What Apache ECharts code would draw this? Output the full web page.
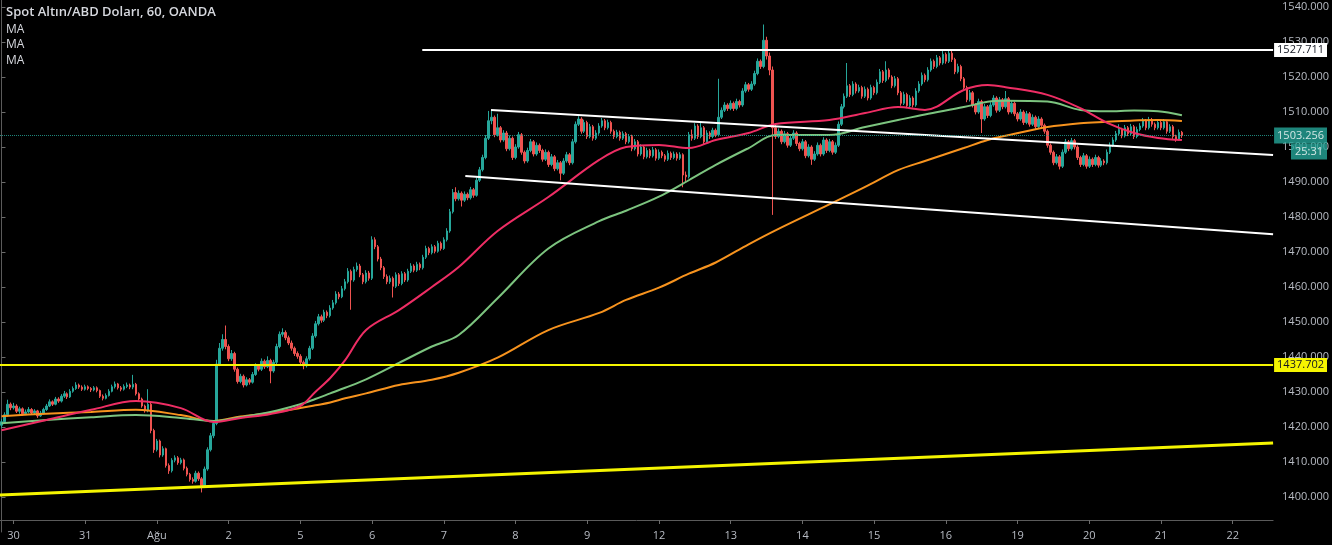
<!DOCTYPE html>
<html><head><meta charset="utf-8">
<script src="https://cdn.jsdelivr.net/npm/echarts/dist/echarts.min.js"></script>
<style>html,body{margin:0;padding:0;background:#000;}#c{width:1332px;height:545px;}</style>
</head><body><div id="c"></div>
<script>
// ---- tick labels (trading-day starts) ----
const tickLabels = ['30','31','Ağu','2','5','6','7','8','9','12','13','14','15','16','19','20','21','22'];
const firstDayBar = 4;      // bar index of Jul 30 00:00
const barsPerDay = 24;      // hourly bars
const totalSlots = 426;     // bar slots visible on the axis

// ---- hourly candles [open, close, low, high] ----
const candles = [
// Jul 29 late
[1420.5,1421.5,1419.8,1422.3],[1421.5,1423.5,1421.0,1424.2],[1423.5,1426.5,1423.0,1427.8],[1426.5,1425.5,1424.8,1427.0],
// Jul 30
[1425.5,1426.0,1425.0,1426.9],[1426.0,1424.5,1424.0,1426.5],[1424.5,1425.2,1423.8,1425.8],[1425.2,1423.8,1423.2,1425.6],
[1423.8,1424.3,1423.4,1425.0],[1424.3,1425.0,1423.9,1425.7],[1425.0,1424.0,1423.5,1425.4],[1424.0,1424.6,1423.6,1425.1],
[1424.6,1423.2,1422.6,1424.9],[1423.2,1424.0,1422.9,1424.6],[1424.0,1425.0,1423.6,1425.5],[1425.0,1426.0,1424.6,1426.6],
[1426.0,1427.2,1425.7,1427.9],[1427.2,1426.5,1426.0,1427.6],[1426.5,1428.0,1426.2,1428.6],[1428.0,1427.4,1426.9,1428.5],
[1427.4,1428.8,1427.0,1429.4],[1428.8,1429.5,1428.3,1430.3],[1429.5,1428.6,1428.0,1429.9],[1428.6,1430.2,1428.3,1430.8],
[1430.2,1431.0,1429.8,1431.6],[1431.0,1432.0,1430.6,1432.8],[1432.0,1431.4,1430.9,1432.4],[1431.4,1430.8,1430.3,1431.9],
// Jul 31
[1430.8,1431.5,1430.4,1432.1],[1431.5,1431.0,1430.5,1431.9],[1431.0,1430.6,1430.0,1431.4],[1430.6,1431.2,1430.2,1431.7],
[1431.2,1430.4,1429.9,1431.6],[1430.4,1428.8,1428.3,1430.7],[1428.8,1428.2,1427.6,1429.3],[1428.2,1429.0,1427.9,1429.6],
[1429.0,1430.2,1428.7,1430.8],[1430.2,1431.5,1429.9,1432.1],[1431.5,1432.3,1431.0,1433.0],[1432.3,1431.2,1430.7,1432.6],
[1431.2,1430.8,1430.2,1431.7],[1430.8,1431.6,1430.4,1432.2],[1431.6,1432.0,1431.1,1432.7],[1432.0,1431.4,1430.8,1432.4],
[1431.4,1432.2,1430.8,1434.9],[1432.2,1429.5,1429.0,1432.6],[1429.5,1428.0,1427.4,1429.9],[1428.0,1426.0,1425.5,1428.4],
[1426.0,1424.8,1424.1,1426.4],[1424.8,1426.5,1424.2,1430.8],[1426.5,1419.0,1418.2,1426.9],[1419.0,1413.5,1412.6,1419.5],
// Aug 1
[1413.5,1416.0,1413.0,1416.6],[1416.0,1412.0,1411.3,1416.4],[1412.0,1413.8,1411.5,1414.5],[1413.8,1409.0,1408.4,1414.1],
[1409.0,1407.5,1406.6,1409.6],[1407.5,1410.5,1407.0,1411.1],[1410.5,1411.2,1409.9,1411.9],[1411.2,1409.8,1409.2,1411.7],
[1409.8,1410.6,1409.3,1411.2],[1410.6,1408.2,1407.6,1411.0],[1408.2,1406.5,1405.9,1408.7],[1406.5,1405.0,1404.4,1406.9],
[1405.0,1404.5,1403.8,1405.6],[1404.5,1406.8,1404.1,1407.5],[1406.8,1405.2,1404.6,1407.3],[1405.2,1403.2,1401.3,1405.7],
[1403.2,1408.0,1402.6,1408.7],[1408.0,1413.5,1407.5,1414.2],[1413.5,1417.5,1413.0,1418.3],[1417.5,1421.0,1416.8,1421.8],
[1421.0,1438.0,1420.5,1439.2],[1438.0,1442.5,1437.4,1444.0],[1442.5,1445.0,1441.8,1446.5],[1445.0,1443.0,1442.2,1449.0],
// Aug 2
[1443.0,1439.5,1438.8,1443.6],[1439.5,1441.0,1438.9,1442.0],[1441.0,1436.5,1435.8,1441.5],[1436.5,1433.0,1432.4,1437.0],
[1433.0,1434.5,1432.5,1435.2],[1434.5,1432.0,1431.3,1435.0],[1432.0,1433.5,1431.6,1434.2],[1433.5,1432.8,1432.1,1434.0],
[1432.8,1435.0,1432.4,1435.7],[1435.0,1437.5,1434.6,1438.2],[1437.5,1436.5,1435.9,1438.0],[1436.5,1438.8,1436.0,1439.6],
[1438.8,1437.2,1436.6,1439.3],[1437.2,1439.0,1436.8,1440.2],[1439.0,1436.0,1432.5,1439.5],[1436.0,1438.5,1435.5,1439.2],
[1438.5,1443.0,1438.0,1443.8],[1443.0,1446.5,1442.5,1447.3],[1446.5,1447.0,1445.8,1448.2],[1447.0,1445.5,1444.8,1447.6],
[1445.5,1444.0,1443.4,1446.1],[1444.0,1442.5,1441.8,1444.7],[1442.5,1441.0,1440.3,1443.0],[1441.0,1440.2,1439.5,1441.6],
// Aug 5
[1440.2,1438.5,1437.8,1440.8],[1438.5,1437.5,1436.5,1439.0],[1437.5,1439.5,1437.0,1440.2],[1439.5,1442.5,1439.0,1443.2],
[1442.5,1446.0,1442.0,1446.8],[1446.0,1449.5,1445.5,1450.3],[1449.5,1451.5,1449.0,1452.3],[1451.5,1450.5,1449.8,1452.1],
[1450.5,1452.8,1450.0,1453.5],[1452.8,1451.8,1451.1,1453.3],[1451.8,1454.0,1451.3,1454.8],[1454.0,1455.5,1453.5,1456.3],
[1455.5,1458.0,1455.0,1458.8],[1458.0,1457.2,1456.5,1458.6],[1457.2,1459.5,1456.8,1460.3],[1459.5,1461.5,1459.0,1462.3],
[1461.5,1464.5,1461.0,1465.4],[1464.5,1462.0,1453.5,1465.0],[1462.0,1465.0,1461.5,1465.8],[1465.0,1466.0,1464.4,1467.0],
[1466.0,1463.5,1462.8,1466.6],[1463.5,1461.5,1460.8,1464.0],[1461.5,1464.0,1461.0,1464.8],[1464.0,1462.5,1461.8,1464.6],
// Aug 6
[1462.5,1473.5,1462.0,1474.5],[1473.5,1471.5,1470.8,1474.2],[1471.5,1468.0,1467.3,1472.0],[1468.0,1465.5,1464.8,1468.6],
[1465.5,1463.0,1462.3,1466.0],[1463.0,1461.5,1460.8,1463.6],[1461.5,1462.5,1460.9,1463.3],[1462.5,1460.2,1457.0,1463.0],
[1460.2,1463.5,1459.7,1464.2],[1463.5,1461.0,1460.3,1464.0],[1461.0,1463.8,1460.5,1464.5],[1463.8,1462.0,1461.4,1464.3],
[1462.0,1464.5,1461.5,1465.2],[1464.5,1466.0,1464.0,1466.8],[1466.0,1464.8,1464.2,1466.5],[1464.8,1466.5,1464.3,1467.2],
[1466.5,1465.5,1464.8,1467.0],[1465.5,1468.5,1465.0,1469.2],[1468.5,1471.0,1468.0,1471.8],[1471.0,1469.8,1469.1,1471.5],
[1469.8,1471.5,1469.3,1472.2],[1471.5,1470.2,1469.6,1472.0],[1470.2,1472.5,1469.8,1473.2],[1472.5,1471.0,1470.4,1473.0],
// Aug 7
[1471.0,1473.5,1470.6,1474.2],[1473.5,1476.0,1473.0,1476.8],[1476.0,1481.5,1475.5,1482.3],[1481.5,1487.0,1481.0,1488.0],
[1487.0,1485.2,1484.5,1488.5],[1485.2,1486.8,1484.7,1487.6],[1486.8,1484.8,1483.0,1487.3],[1484.8,1486.5,1484.3,1487.3],
[1486.5,1485.5,1484.8,1487.0],[1485.5,1487.8,1485.0,1488.6],[1487.8,1486.2,1485.5,1488.3],[1486.2,1490.5,1485.8,1491.3],
[1490.5,1493.5,1490.0,1494.3],[1493.5,1497.0,1493.0,1497.8],[1497.0,1502.5,1496.5,1503.4],[1502.5,1507.5,1502.0,1510.3],
[1507.5,1508.5,1506.5,1510.5],[1508.5,1503.5,1502.8,1509.0],[1503.5,1505.5,1503.0,1509.5],[1505.5,1502.0,1501.3,1506.0],
[1502.0,1504.0,1501.5,1504.8],[1504.0,1499.5,1498.8,1504.6],[1499.5,1502.5,1499.0,1503.3],[1502.5,1497.0,1496.3,1503.0],
// Aug 8
[1497.0,1500.0,1496.5,1500.8],[1500.0,1503.5,1499.5,1504.3],[1503.5,1498.5,1497.8,1504.0],[1498.5,1496.0,1495.3,1499.0],
[1496.0,1499.0,1495.5,1499.8],[1499.0,1501.5,1498.5,1502.3],[1501.5,1498.0,1497.3,1502.0],[1498.0,1500.5,1497.5,1501.3],
[1500.5,1499.0,1498.3,1501.0],[1499.0,1496.5,1495.8,1499.5],[1496.5,1498.5,1496.0,1499.3],[1498.5,1495.0,1494.3,1499.0],
[1495.0,1497.2,1494.5,1498.0],[1497.2,1493.8,1493.1,1497.7],[1493.8,1495.5,1493.3,1496.3],[1495.5,1492.5,1490.5,1496.0],
[1492.5,1496.0,1492.0,1496.8],[1496.0,1497.8,1495.5,1498.6],[1497.8,1495.5,1494.8,1498.3],[1495.5,1501.5,1495.0,1502.3],
[1501.5,1506.5,1501.0,1507.3],[1506.5,1508.0,1506.0,1508.8],[1508.0,1504.5,1503.8,1508.5],[1504.5,1507.0,1504.0,1507.8],
// Aug 9
[1507.0,1503.0,1502.3,1507.5],[1503.0,1505.8,1502.5,1506.6],[1505.8,1502.5,1501.8,1506.3],[1502.5,1504.0,1502.0,1504.8],
[1504.0,1506.0,1503.5,1506.8],[1506.0,1507.5,1505.5,1508.3],[1507.5,1505.5,1504.8,1508.0],[1505.5,1507.0,1505.0,1507.8],
[1507.0,1504.5,1503.8,1507.5],[1504.5,1503.0,1502.3,1505.0],[1503.0,1504.2,1502.5,1504.9],[1504.2,1502.5,1501.8,1504.7],
[1502.5,1503.8,1502.0,1504.5],[1503.8,1501.5,1500.8,1504.3],[1501.5,1503.0,1501.0,1503.7],[1503.0,1499.5,1498.8,1503.5],
[1499.5,1501.5,1499.0,1502.3],[1501.5,1498.0,1497.3,1502.0],[1498.0,1500.0,1497.5,1500.8],[1500.0,1497.2,1496.5,1500.5],
[1497.2,1499.0,1496.7,1499.8],[1499.0,1497.5,1496.8,1499.5],[1497.5,1499.2,1497.0,1500.0],[1499.2,1496.8,1496.1,1499.7],
// Aug 12
[1496.8,1498.5,1496.3,1499.3],[1498.5,1497.5,1496.8,1499.0],[1497.5,1496.5,1495.8,1498.0],[1496.5,1498.2,1496.0,1499.0],
[1498.2,1497.0,1496.3,1498.7],[1497.0,1498.0,1496.5,1498.7],[1498.0,1496.8,1496.1,1498.5],[1496.8,1497.8,1496.3,1498.5],
[1497.8,1492.0,1488.5,1498.2],[1492.0,1491.5,1489.8,1493.0],[1491.5,1503.5,1491.0,1504.3],[1503.5,1502.5,1501.8,1505.0],
[1502.5,1506.0,1502.0,1506.8],[1506.0,1503.0,1502.3,1506.5],[1503.0,1505.5,1502.5,1507.0],[1505.5,1501.5,1500.8,1506.0],
[1501.5,1504.0,1501.0,1504.8],[1504.0,1503.0,1502.3,1504.5],[1503.0,1504.8,1502.5,1505.5],[1504.8,1503.5,1502.8,1505.3],
[1503.5,1508.5,1503.0,1519.5],[1508.5,1510.5,1508.0,1511.3],[1510.5,1512.0,1510.0,1512.8],[1512.0,1511.0,1510.3,1512.5],
// Aug 13
[1511.0,1512.5,1510.5,1513.3],[1512.5,1511.0,1510.3,1513.0],[1511.0,1513.0,1510.5,1513.8],[1513.0,1512.0,1511.3,1513.5],
[1512.0,1516.0,1511.5,1516.8],[1516.0,1517.8,1515.5,1518.6],[1517.8,1516.5,1515.8,1518.3],[1516.5,1518.0,1516.0,1518.8],
[1518.0,1521.0,1517.5,1521.8],[1521.0,1524.5,1520.5,1525.3],[1524.5,1523.0,1522.3,1525.0],[1523.0,1530.5,1522.5,1535.0],
[1530.5,1526.0,1525.0,1531.5],[1526.0,1522.0,1520.5,1527.0],[1522.0,1505.5,1480.6,1523.0],[1505.5,1503.0,1502.3,1506.5],
[1503.0,1504.5,1502.5,1505.3],[1504.5,1501.5,1500.8,1505.0],[1501.5,1503.8,1501.0,1504.6],[1503.8,1500.5,1499.8,1504.3],
[1500.5,1502.5,1500.0,1503.3],[1502.5,1504.0,1502.0,1504.8],[1504.0,1501.0,1500.3,1504.5],[1501.0,1499.5,1498.8,1501.5],
// Aug 14
[1499.5,1501.5,1499.0,1502.3],[1501.5,1497.5,1496.8,1502.0],[1497.5,1500.0,1497.0,1500.8],[1500.0,1496.5,1494.9,1500.5],
[1496.5,1498.0,1496.0,1498.8],[1498.0,1500.5,1497.5,1501.3],[1500.5,1498.0,1497.3,1501.0],[1498.0,1502.0,1497.5,1502.8],
[1502.0,1499.0,1498.3,1502.5],[1499.0,1501.5,1498.5,1502.3],[1501.5,1498.5,1497.8,1502.0],[1498.5,1500.5,1498.0,1501.3],
[1500.5,1506.5,1500.0,1507.3],[1506.5,1511.5,1506.0,1512.3],[1511.5,1514.5,1511.0,1515.3],[1514.5,1517.5,1514.0,1524.0],
[1517.5,1515.0,1514.3,1518.0],[1515.0,1518.0,1514.5,1518.8],[1518.0,1516.0,1515.3,1518.5],[1516.0,1517.0,1515.5,1517.8],
[1517.0,1514.5,1513.8,1517.5],[1514.5,1516.5,1514.0,1517.3],[1516.5,1514.0,1513.3,1517.0],[1514.0,1517.0,1513.5,1517.8],
// Aug 15
[1517.0,1515.5,1514.8,1517.5],[1515.5,1518.5,1515.0,1519.3],[1518.5,1521.5,1518.0,1522.3],[1521.5,1519.0,1518.3,1522.0],
[1519.0,1522.0,1518.5,1524.5],[1522.0,1520.0,1519.3,1522.5],[1520.0,1517.5,1516.8,1520.5],[1517.5,1519.5,1517.0,1520.3],
[1519.5,1515.5,1514.8,1520.0],[1515.5,1512.5,1511.8,1516.0],[1512.5,1515.0,1512.0,1515.8],[1515.0,1511.8,1511.1,1515.5],
[1511.8,1514.0,1511.3,1514.8],[1514.0,1512.0,1511.3,1514.5],[1512.0,1516.0,1511.5,1516.8],[1516.0,1518.0,1515.5,1518.8],
[1518.0,1520.5,1517.5,1521.3],[1520.5,1519.2,1518.5,1521.0],[1519.2,1522.0,1518.7,1522.8],[1522.0,1524.5,1521.5,1525.3],
[1524.5,1523.0,1522.3,1525.0],[1523.0,1525.5,1522.5,1526.3],[1525.5,1524.0,1523.3,1526.0],[1524.0,1526.5,1523.5,1527.5],
// Aug 16
[1526.5,1524.5,1523.8,1527.0],[1524.5,1526.8,1524.0,1528.0],[1526.8,1525.0,1524.3,1527.5],[1525.0,1521.5,1520.8,1525.5],
[1521.5,1523.0,1521.0,1523.8],[1523.0,1519.5,1518.8,1523.5],[1519.5,1517.0,1516.3,1520.0],[1517.0,1513.5,1512.8,1517.5],
[1513.5,1515.5,1513.0,1516.3],[1515.5,1512.0,1511.3,1516.0],[1512.0,1510.0,1509.3,1512.5],[1510.0,1513.0,1509.5,1513.8],
[1513.0,1508.0,1504.0,1513.5],[1508.0,1511.5,1507.5,1512.3],[1511.5,1509.0,1508.3,1512.0],[1509.0,1512.0,1508.5,1512.8],
[1512.0,1514.0,1511.5,1514.8],[1514.0,1510.5,1509.8,1514.5],[1510.5,1513.5,1510.0,1514.3],[1513.5,1511.5,1510.8,1514.0],
[1511.5,1513.8,1511.0,1516.0],[1513.8,1510.0,1509.3,1514.3],[1510.0,1512.5,1509.5,1513.3],[1512.5,1509.5,1508.8,1513.0],
// Aug 19
[1509.5,1508.0,1507.3,1510.0],[1508.0,1510.0,1507.5,1510.8],[1510.0,1507.0,1506.3,1510.5],[1507.0,1509.5,1506.5,1510.3],
[1509.5,1506.5,1505.8,1510.0],[1506.5,1508.5,1506.0,1509.3],[1508.5,1505.8,1505.1,1509.0],[1505.8,1508.0,1505.3,1508.8],
[1508.0,1506.2,1505.5,1508.5],[1506.2,1504.5,1503.8,1506.7],[1504.5,1500.5,1499.8,1505.0],[1500.5,1498.5,1497.8,1501.0],
[1498.5,1495.5,1494.8,1499.0],[1495.5,1497.2,1495.0,1498.0],[1497.2,1494.5,1493.6,1497.7],[1494.5,1498.5,1494.0,1499.3],
[1498.5,1501.5,1498.0,1502.3],[1501.5,1499.5,1498.8,1502.0],[1499.5,1501.8,1499.0,1502.6],[1501.8,1500.0,1499.3,1502.3],
[1500.0,1497.0,1496.3,1500.5],[1497.0,1495.0,1494.3,1497.5],[1495.0,1497.5,1494.5,1498.3],[1497.5,1494.5,1493.8,1498.0],
// Aug 20
[1494.5,1496.5,1494.0,1497.3],[1496.5,1495.0,1494.3,1497.0],[1495.0,1497.0,1494.5,1497.8],[1497.0,1494.8,1494.1,1497.5],
[1494.8,1496.0,1494.3,1496.8],[1496.0,1495.5,1494.8,1496.5],[1495.5,1498.5,1495.0,1499.3],[1498.5,1500.5,1498.0,1501.3],
[1500.5,1502.0,1500.0,1502.8],[1502.0,1503.8,1501.5,1504.6],[1503.8,1505.0,1503.3,1506.5],[1505.0,1503.2,1502.5,1505.5],
[1503.2,1505.5,1502.7,1506.3],[1505.5,1503.8,1503.1,1506.0],[1503.8,1505.8,1503.3,1506.6],[1505.8,1503.0,1502.3,1506.3],
[1503.0,1505.0,1502.5,1505.8],[1505.0,1506.0,1504.5,1506.8],[1506.0,1507.5,1505.5,1508.3],[1507.5,1505.5,1504.8,1508.0],
[1505.5,1507.8,1505.0,1508.6],[1507.8,1506.5,1505.8,1508.3],[1506.5,1505.5,1504.8,1507.0],[1505.5,1507.0,1505.0,1507.8],
// Aug 21
[1507.0,1505.5,1504.8,1507.5],[1505.5,1507.2,1505.0,1508.0],[1507.2,1504.5,1503.8,1507.7],[1504.5,1505.8,1504.0,1506.5],
[1505.8,1503.0,1502.3,1506.3],[1503.0,1502.2,1501.5,1503.5],[1502.2,1504.2,1501.8,1505.0],[1504.2,1503.256,1502.6,1504.6]
];

// ---- moving averages (bar index -> value) ----
const maBars = [0,15,30,45,60,71,80,90,100,105,110,115,122,133,144,153,166,183,200,209,220,230,239,250,259,277,289,300,309,322,330,336,350,361,370,379,387,395];
const maFast = [1419.1,1422.0,1424.9,1427.4,1425.4,1421.4,1422.6,1423.7,1426.0,1430.0,1434.0,1439.1,1447.7,1453.4,1460.0,1465.7,1476.0,1485.7,1496.3,1500.0,1500.6,1499.7,1502.0,1504.0,1506.6,1507.7,1509.7,1511.4,1510.6,1516.3,1517.7,1517.1,1514.9,1511.1,1506.9,1504.0,1502.6,1502.0];
const maMid  = [1421.1,1422.0,1422.8,1423.4,1422.6,1421.7,1422.8,1424.3,1426.5,1428.0,1429.6,1431.2,1433.6,1438.3,1443.0,1446.3,1456.8,1471.0,1478.8,1481.8,1485.8,1490.5,1494.9,1499.7,1503.4,1503.4,1505.7,1507.7,1509.3,1511.4,1512.9,1513.2,1513.0,1510.6,1510.2,1510.4,1510.2,1509.1];
const maSlow = [1423.1,1423.8,1424.3,1424.9,1423.4,1421.7,1423.0,1424.0,1425.4,1426.2,1427.0,1428.2,1429.6,1432.0,1433.5,1435.5,1439.8,1447.7,1452.6,1456.3,1459.8,1463.8,1467.0,1472.2,1476.2,1483.6,1488.6,1493.4,1496.0,1499.7,1502.0,1503.2,1505.7,1506.8,1507.2,1507.6,1507.7,1507.4];

// ---- drawn levels / trend lines ([bar index, price]) ----
const resistanceLevel = 1527.711;
const supportLevel = 1437.702;
const lastPrice = 1503.256;
const countdown = '25:31';
const resistanceLine = [[140.8,1527.711],[425.5,1527.711]];
const channelUpper = [[163.8,1510.57],[425.5,1497.7]];
const channelLower = [[155.2,1491.71],[425.5,1475.1]];
const risingSupport = [[-0.5,1400.57],[425.5,1415.43]];

// ---- build ----
const cats = [];
for (let i = 0; i < totalSlots; i++) cats.push('b' + i);
function isDayStart(i){ return i >= firstDayBar && (i - firstDayBar) % barsPerDay === 0; }
function dayLabel(i){ const d = (i - firstDayBar) / barsPerDay; return tickLabels[d] || ''; }
const pair = (xs, ys) => xs.map((x, k) => [x, ys[k]]);

const UP = '#26a69a', DOWN = '#ef5350';
const FONT = '"Open Sans", "Noto Sans", sans-serif';
const chart = echarts.init(document.getElementById('c'), null, {renderer: 'canvas'});
const lineOnly = (data, color, width, z) => ({
  type: 'line', xAxisIndex: 1, data, showSymbol: false, symbol: 'none', silent: true,
  lineStyle: {color, width}, z, animation: false
});
const tagLabel = (text, bg, fg) => ({
  show: true, position: 'end', distance: 1, formatter: text,
  backgroundColor: bg, color: fg, padding: [2, 3, 1, 3], fontSize: 11, fontFamily: FONT
});
chart.setOption({
  backgroundColor: '#000000',
  animation: false,
  grid: {left: 0, right: 55, top: 0, bottom: 13, containLabel: false},
  xAxis: [{
    type: 'category', data: cats, boundaryGap: true, offset: -12,
    axisLine: {show: true, lineStyle: {color: '#5b5b5b', width: 1}},
    axisTick: {show: true, alignWithLabel: true, length: 4, interval: (i) => isDayStart(i), lineStyle: {color: '#6b6b6b'}},
    axisLabel: {show: true, interval: (i) => isDayStart(i), formatter: (v, i) => dayLabel(i),
      color: '#b8bcc4', fontSize: 11, fontFamily: FONT, margin: 10},
    splitLine: {show: false}
  }, {
    type: 'value', min: -0.5, max: totalSlots - 0.5, show: false, gridIndex: 0
  }],
  yAxis: {
    type: 'value', position: 'right', min: 1390, max: 1542, interval: 10,
    axisLine: {show: true, lineStyle: {color: '#5b5b5b'}},
    axisTick: {show: true, length: 4, lineStyle: {color: '#6b6b6b'}},
    axisLabel: {color: '#b8bcc4', fontSize: 11, fontFamily: FONT, margin: 9,
      showMinLabel: false, showMaxLabel: false,
      formatter: (v) => (v % 10 === 0 && v > 1390 ? v.toFixed(3) : '')},
    splitLine: {show: false}
  },
  graphic: [
    {type: 'text', left: 6, top: 6, z: 100, style: {text: 'Spot Altın/ABD Doları, 60, OANDA', fill: '#d6d8de', font: '600 13px ' + FONT}},
    {type: 'text', left: 6, top: 24, z: 100, style: {text: 'MA', fill: '#d6d8de', font: '12px ' + FONT}},
    {type: 'text', left: 6, top: 39, z: 100, style: {text: 'MA', fill: '#d6d8de', font: '12px ' + FONT}},
    {type: 'text', left: 6, top: 55, z: 100, style: {text: 'MA', fill: '#d6d8de', font: '12px ' + FONT}}
  ],
  series: [
    {
      type: 'candlestick', xAxisIndex: 0, data: candles, barWidth: 2, z: 2,
      itemStyle: {color: UP, color0: DOWN, borderColor: UP, borderColor0: DOWN, borderWidth: 1},
      markLine: {
        silent: true, symbol: ['none', 'none'], animation: false, z: 10,
        data: [
          {yAxis: resistanceLevel, lineStyle: {color: 'rgba(0,0,0,0)', width: 1, type: 'solid'},
            label: tagLabel(resistanceLevel.toFixed(3), '#ffffff', '#131722')},
          {yAxis: supportLevel, lineStyle: {color: '#f5f500', width: 2, type: 'solid'},
            label: tagLabel(supportLevel.toFixed(3), '#f5f500', '#131722')},
          {yAxis: lastPrice, lineStyle: {color: '#26a69a', width: 1, type: 'dotted', opacity: 0.8},
            label: {show: true, position: 'end', distance: 1,
              formatter: '{e| }\n{a|' + lastPrice.toFixed(3) + '}\n{b|' + countdown + '}',
              rich: {
                e: {height: 16, lineHeight: 16, fontSize: 11},
                a: {backgroundColor: '#26a69a', color: '#ffffff', padding: [0, 3], height: 16, lineHeight: 16, fontSize: 11, fontFamily: FONT},
                b: {backgroundColor: '#26a69a', color: '#ffffff', padding: [0, 4], height: 16, lineHeight: 16, fontSize: 11, fontFamily: FONT, align: 'right'}
              }}}
        ]
      }
    },
    Object.assign(lineOnly(pair(maBars, maSlow), '#f7931e', 2, 3), {smooth: 0.35}),
    Object.assign(lineOnly(pair(maBars, maMid), '#7cc47f', 2, 3), {smooth: 0.35}),
    Object.assign(lineOnly(pair(maBars, maFast), '#ee2d64', 2, 3), {smooth: 0.35}),
    lineOnly(resistanceLine, '#ffffff', 2, 4),
    lineOnly(channelUpper, '#ffffff', 2, 4),
    lineOnly(channelLower, '#ffffff', 2, 4),
    lineOnly(risingSupport, '#f5f500', 3, 4)
  ]
});
</script>
</body></html>
